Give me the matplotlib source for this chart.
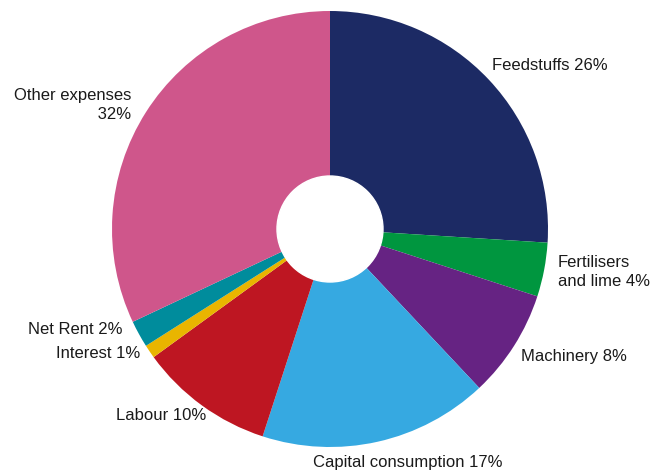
import matplotlib.pyplot as plt

categories = ['Feedstuffs', 'Fertilisers\nand lime', 'Machinery', 'Capital consumption',
              'Labour', 'Interest', 'Net Rent', 'Other expenses\n']
shares = [26, 4, 8, 17, 10, 1, 2, 32]
colors = ['#1c2a64', '#00963f', '#662383', '#36a9e1',
          '#be1622', '#e9b500', '#008c9c', '#cf568b']

# label anchor points in pixels (x, y from top) and horizontal alignment
label_pos = [(492, 65, 'left'), (558, 272, 'left'), (521, 357, 'left'), (313, 463, 'left'),
             (206, 416, 'right'), (140, 354, 'right'), (122, 330, 'right'), (131, 105, 'right')]

W, H = 667, 474
fig = plt.figure(figsize=(W / 100, H / 100), dpi=100)

cx, cy, r = 330, 229, 218
ax = fig.add_axes([(cx - r) / W, (H - cy - r) / H, 2 * r / W, 2 * r / H])
ax.pie(shares, colors=colors, startangle=90, counterclock=False,
       wedgeprops=dict(linewidth=0))
ax.add_patch(plt.Circle((0, 0), 53 / r, color='white', zorder=5))
ax.set_xlim(-1, 1)
ax.set_ylim(-1, 1)
ax.set_aspect('equal')
ax.axis('off')

for name, pct, (x, y, ha) in zip(categories, shares, label_pos):
    fig.text(x / W, 1 - y / H, f'{name} {pct}%', ha=ha, va='center',
             fontsize=12, family='Liberation Sans', color='#1a1a1a',
             linespacing=1.3, multialignment=ha)

fig.savefig('out.png', dpi=100, facecolor='white')
